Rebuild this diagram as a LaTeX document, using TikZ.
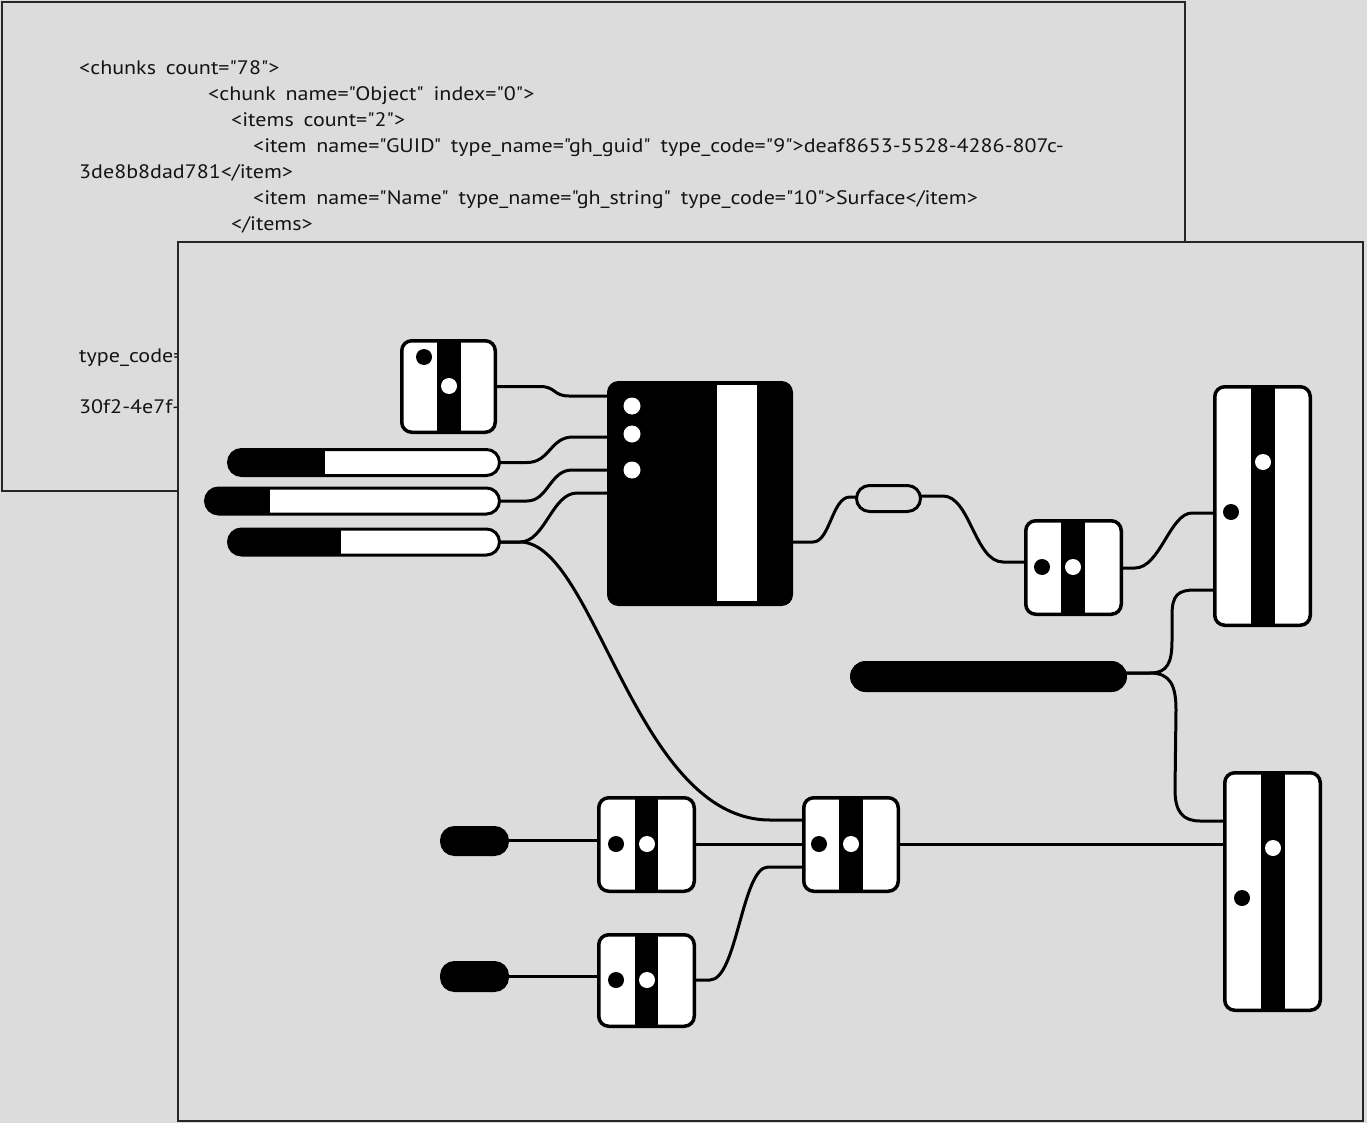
\documentclass[tikz,border=0pt]{standalone}
\usepackage{fontspec}
\setmainfont{PT Sans}
\newfontfamily\codefont{PT Sans}[FakeStretch=1.13]
\usetikzlibrary{calc}
\definecolor{bg}{HTML}{DCDCDC}
\definecolor{edge}{HTML}{262626}
\newcommand{\g}{\hspace{0.5em}}
\newcommand{\q}{\symbol{34}}
\begin{document}
\begin{tikzpicture}[x=1pt,y=-1pt,
  wire/.style={line width=3pt, black},
  panel/.style={draw=edge, line width=1.6pt, fill=bg},
  code/.style={anchor=base west, inner sep=0pt, font=\codefont\fontsize{19.5}{22}\selectfont, text=black!92},
  comp/.style={draw, line width=3.5pt, fill=white, rounded corners=10pt, inner sep=0pt, outer sep=0pt},
  bandat/.style 2 args={path picture={\fill[black, sharp corners] ([xshift=#1]path picture bounding box.north west) rectangle ([xshift=#2]path picture bounding box.south west);}},
  slider/.style={comp, line width=3pt, rounded corners=13pt, minimum height=26pt},
  blackpill/.style={draw, line width=3pt, fill=black, rounded corners=13pt, inner sep=0pt, outer sep=0pt},
  wdot/.style={fill=white},
  bdot/.style={fill=black}
]
\useasboundingbox[fill=bg] (0,0) rectangle (1367,1123);

% back panel with xml text
\draw[panel] (2,2) rectangle (1185,491);
\node[code] (t1) at (79,75) {<chunks\g count=\q78\q>};
\node[code] (t2) at (208,101) {<chunk\g name=\q Object\q\g index=\q0\q>};
\node[code] (t3) at (231,127) {<items\g count=\q2\q>};
\node[code] (t4) at (253,153) {<item\g name=\q GUID\q\g type\_name=\q gh\_guid\q\g type\_code=\q9\q>deaf8653-5528-4286-807c-};
\node[code] (t5) at (79,179) {3de8b8dad781</item>};
\node[code] (t6) at (253,205) {<item\g name=\q Name\q\g type\_name=\q gh\_string\q\g type\_code=\q10\q>Surface</item>};
\node[code] (t7) at (231,231) {</items>};
\node[code] (t8) at (79,362) {type\_code=\q9\q};
\node[code] (t9) at (79,413) {30f2-4e7f-a};

% front panel
\draw[panel] (178,242) rectangle (1363,1121);

% components
\node[comp, minimum width=93.5pt, minimum height=91.5pt, bandat={35.5pt}{59.5pt}] (P) at (448.5,386.5) {};
\node[slider, minimum width=271pt, bandat={0pt}{96.5pt}] (S1) at (364,462.5) {};
\node[slider, minimum width=294pt, bandat={0pt}{64.5pt}] (S2) at (352.5,501) {};
\node[slider, minimum width=271pt, bandat={0pt}{112.5pt}] (S3) at (364,542) {};
\node[draw, line width=3pt, fill=black, rounded corners=10pt, minimum width=183pt, minimum height=222pt, inner sep=0pt, outer sep=0pt] (C) at (700,493.5) {};
\node[draw, line width=3pt, fill=bg, rounded corners=13pt, minimum width=64pt, minimum height=26pt, inner sep=0pt, outer sep=0pt] (Q) at (888.5,498.5) {};
\node[comp, minimum width=95.5pt, minimum height=93.5pt, bandat={35.5pt}{59.5pt}] (R1) at (1073.5,567.5) {};
\node[comp, minimum width=95.5pt, minimum height=238.5pt, bandat={36.5pt}{60.5pt}] (R2) at (1262.5,506) {};
\node[blackpill, rounded corners=14pt, minimum width=274pt, minimum height=28pt] (B) at (988.5,676.5) {};
\node[comp, minimum width=95.5pt, minimum height=237.5pt, bandat={36.5pt}{60.5pt}] (R3) at (1272.5,891.5) {};
\node[blackpill, minimum width=66pt, minimum height=27pt] (D1) at (474.5,841) {};
\node[blackpill, minimum width=66pt, minimum height=28pt] (D2) at (474.5,976.5) {};
\node[comp, minimum width=95.5pt, minimum height=93.5pt, bandat={36.5pt}{59.5pt}] (L1) at (646.5,844.5) {};
\node[comp, minimum width=95.5pt, minimum height=91.5pt, bandat={36.5pt}{59.5pt}] (L2) at (646.5,980.5) {};
\node[comp, minimum width=94.5pt, minimum height=93.5pt, bandat={35.5pt}{59.5pt}] (M) at (851,844.5) {};

% white stripe and ports of the black component
\fill[white] (717,385) rectangle (757,601);
\foreach \yy in {406,434,470} \fill[white] (632,\yy) circle (8.5);

% dots
\fill[bdot] (424,357) circle (8); \fill[wdot] (449,386) circle (8);
\fill[bdot] (1042,567) circle (8); \fill[wdot] (1073,567) circle (8);
\fill[wdot] (1263,462) circle (8); \fill[bdot] (1231,512) circle (8);
\fill[wdot] (1273,848) circle (8); \fill[bdot] (1242,898) circle (8);
\fill[bdot] (616,844) circle (8); \fill[wdot] (647,844) circle (8);
\fill[bdot] (616,980) circle (8); \fill[wdot] (647,980) circle (8);
\fill[bdot] (819,844) circle (8); \fill[wdot] (851,844) circle (8);

% wires
\draw[wire] (P.east) -- (540,386.5) .. controls (556,386.5) and (553,396) .. (569,396) -- (C.west |- 0,396);
\draw[wire] (S1.east) -- (527,462.5) .. controls (550,462.5) and (550,437) .. (573,437) -- (C.west |- 0,437);
\draw[wire] (S2.east) -- (527,501) .. controls (548,501) and (550,470) .. (572,470) -- (C.west |- 0,470);
\draw[wire] (S3.east) -- (520,542) .. controls (545,542) and (552,493) .. (577,493) -- (C.west |- 0,493);
\draw[wire] (S3.east) -- (520,542) .. controls (595,542) and (635,820) .. (770,820) -- (M.west |- 0,820);
\draw[wire] (C.east |- 0,542) -- (813,542) .. controls (830,542) and (832,497) .. (850,497) -- (Q.west |- 0,497);
\draw[wire] (Q.east |- 0,496) -- (943,496) .. controls (970,496) and (975,562) .. (1003,562) -- (R1.west |- 0,562);
\draw[wire] (R1.east |- 0,568) -- (1135,568) .. controls (1160,568) and (1170,513) .. (1192,513) -- (R2.west |- 0,513);
\draw[wire] (B.east |- 0,673) -- (1150,673) .. controls (1168,673) and (1172,662) .. (1172,640) -- (1172,615) .. controls (1172,595) and (1178,590) .. (1195,590) -- (R2.west |- 0,590);
\draw[wire] (B.east |- 0,673) -- (1150,673) .. controls (1170,673) and (1176,685) .. (1176,710) -- (1175,790) .. controls (1175,812) and (1183,821) .. (1200,821) -- (R3.west |- 0,821);
\draw[wire] (D1.east |- 0,840) -- (L1.west |- 0,840);
\draw[wire] (D2.east |- 0,976) -- (L2.west |- 0,976);
\draw[wire] (L1.east |- 0,844) -- (M.west |- 0,844);
\draw[wire] (L2.east |- 0,980) -- (710,980) .. controls (737,980) and (742,867) .. (768,867) -- (M.west |- 0,867);
\draw[wire] (M.east |- 0,844) -- (R3.west |- 0,844);
\end{tikzpicture}
\end{document}
